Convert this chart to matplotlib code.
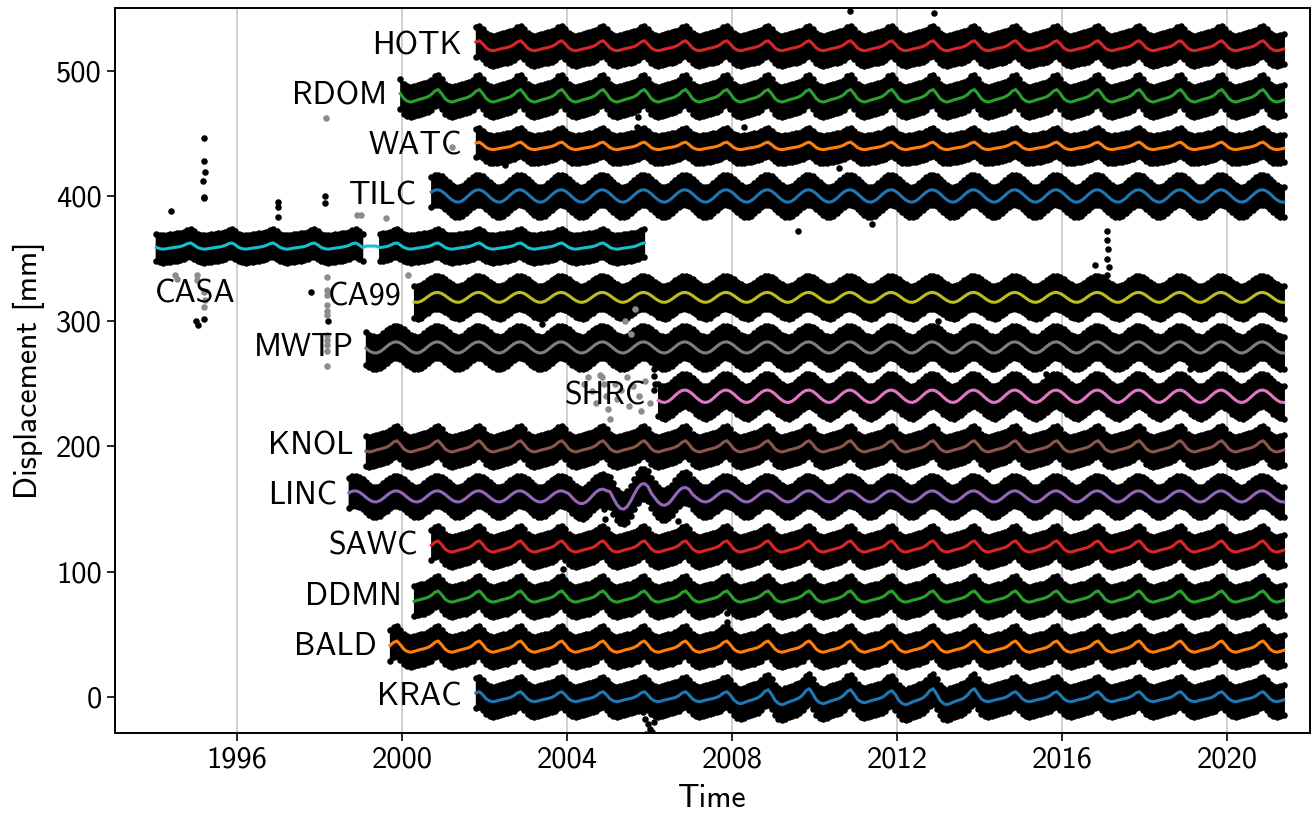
import numpy as np
import matplotlib.pyplot as plt

plt.rcParams['font.family'] = 'cmss10'
plt.rcParams['axes.unicode_minus'] = False
plt.rcParams['mathtext.fontset'] = 'cm'

# GNSS stations, stacked bottom to top with a 40 mm spacing
names = ['KRAC', 'BALD', 'DDMN', 'SAWC', 'LINC', 'KNOL', 'SHRC',
         'MWTP', 'CA99', 'CASA', 'TILC', 'WATC', 'RDOM', 'HOTK']
start = [2001.72, 1999.66, 2000.27, 2000.65, 1998.69, 1999.10, 2006.18,
         1999.10, 2000.27, 1993.96, 2000.63, 2001.72, 1999.90, 2001.72]
end = [2021.45, 2021.45, 2021.45, 2021.45, 2021.45, 2021.45, 2021.45,
       2021.45, 2021.45, 2005.94, 2021.45, 2021.45, 2021.45, 2021.45]
level = [0, 40, 80, 120, 160, 200, 240, 279, 319, 360, 400, 440, 480, 520]
amp = [4.0, 4.5, 4.5, 4.5, 4.5, 4.5, 5.0, 4.5, 4.0, 2.5, 5.0, 3.0, 5.0, 4.0]
kind = ['saw', 'saw', 'saw', 'saw', 'sine', 'saw', 'sine',
        'sine', 'sine', 'saw', 'sine', 'saw', 'saw', 'saw']
spread = [12, 12, 12, 12, 12, 12, 13, 13, 13, 11, 12, 11, 12, 12]

# seasonal signal, one value per calendar month (Jan..Dec)
seasonal = {
    'sine': [0.36, -0.16, -0.63, -0.93, -0.99, -0.78,
             -0.36, 0.16, 0.63, 0.93, 0.99, 0.78],
    'saw': [-0.45, -0.85, -1.00, -0.85, -0.65, -0.50,
            -0.35, -0.15, 0.20, 0.75, 1.00, 0.35],
}
# years where the fitted seasonal term is stronger
amp_year = {
    'KRAC': {2008: 1.4, 2009: 1.6, 2010: 1.4, 2011: 1.2, 2012: 1.6, 2013: 1.6},
    'LINC': {2004: 1.3, 2005: 2.3, 2006: 1.6},
}
# data gaps (no observations)
gaps = {'CASA': [(1999.05, 1999.45)]}

# isolated observations away from the main bands
black_x = [1995.2, 1995.2, 1995.21, 1995.18, 1995.19, 1995.2, 1994.4,
           1998.13, 1998.13, 1997.0, 1997.0, 1997.0, 1997.8, 1995.0, 1995.05,
           1995.2, 1998.2,
           2005.85, 2005.9, 2005.95, 2006.0, 2006.05, 2005.92, 2006.1, 2006.15,
           2006.1, 2006.1, 2006.12, 2006.1,
           2017.1, 2017.1, 2017.12, 2017.1, 2017.15, 2017.1, 2017.12,
           2007.88, 2007.88, 2007.9, 2007.88, 2007.9,
           2005.7, 2005.72, 2005.7, 2004.9, 2004.92,
           2008.3, 2011.4, 2013.0, 2016.8, 2019.1, 2010.6, 2003.4, 2014.2,
           2010.85, 2012.9, 2002.5, 2009.6, 2018.3, 2015.6, 2006.7, 2003.9]
black_y = [446, 428, 419, 412, 399, 398, 388,
           400, 394, 395, 391, 383, 323, 300, 297,
           302, 300,
           -12, -18, -22, -26, -28, -30, -20, -15,
           262, 256, 250, 245,
           372, 365, 358, 350, 343, 337, 330,
           67, 60, 52, 45, 35,
           470, 463, 455, 150, 142,
           455, 378, 300, 345, 262, 422, 298, 182,
           548, 546, 425, 372, 505, 258, 140, 102]
gray_x = [1994.5, 1994.55, 1995.03, 1995.03, 1995.2, 1995.22, 1995.2,
          1998.18, 1998.18, 1998.18, 1998.18, 1998.18, 1998.18, 1998.18,
          1998.18, 1998.18, 1998.18, 1998.18, 1998.16,
          1998.9, 1999.0, 1999.6, 2001.2, 2000.15,
          2004.4, 2004.5, 2004.6, 2004.7, 2004.8, 2004.85, 2004.9, 2004.95,
          2005.0, 2005.05, 2005.15, 2005.2, 2005.3, 2005.45, 2005.5, 2005.6,
          2005.75, 2005.8, 2005.9, 2006.0, 2005.4, 2005.55, 2005.65]
gray_y = [337, 334, 337, 333, 323, 317, 311,
          335, 325, 321, 313, 308, 305, 289, 285, 281, 276, 264, 462,
          385, 385, 382, 439, 337,
          250, 255, 244, 235, 257, 255, 250, 240,
          230, 222, 250, 238, 245, 255, 232, 248,
          240, 228, 252, 235, 300, 290, 310]


def station_series(i):
    k = np.arange(int(np.ceil(start[i] * 12 - 0.5)), int(end[i] * 12))
    t = (k + 0.5) / 12
    shape = np.array(seasonal[kind[i]])[k % 12]
    factors = amp_year.get(names[i], {})
    f = np.array([factors.get(int(yr), 1.0) for yr in np.floor(t)])
    y = level[i] + amp[i] * f * shape
    return t, y


fig, ax = plt.subplots(figsize=(13.16, 8.19), dpi=100)
fig.subplots_adjust(left=0.0874, right=0.9954, top=0.990, bottom=0.105)

colors = plt.rcParams['axes.prop_cycle'].by_key()['color']

for i, name in enumerate(names):
    t, y = station_series(i)
    obs = np.ones_like(t, dtype=bool)
    for g0, g1 in gaps.get(name, []):
        obs &= ~((t > g0) & (t < g1))
        y = np.where((t > g0) & (t < g1), level[i], y)
    ax.fill_between(t, y - spread[i], y + spread[i], where=obs,
                    color='k', lw=1, zorder=2)
    # dotted rim of the band
    ax.scatter(t[obs], (y + spread[i])[obs], s=22, color='k', lw=0, zorder=2)
    ax.scatter(t[obs], (y - spread[i])[obs], s=22, color='k', lw=0, zorder=2)
    ax.plot(t, y, color=colors[i % 10], lw=2.2, zorder=4)
    if name == 'CASA':
        ax.text(start[i] + 0.05, level[i] - 38, name, ha='left',
                va='center', fontsize=23, zorder=5)
    else:
        ax.text(start[i] - 0.27, level[i], name, ha='right',
                va='center', fontsize=23, zorder=5)

ax.scatter(black_x, black_y, s=22, color='k', lw=0, zorder=3)
ax.scatter(gray_x, gray_y, s=22, color='#8c8c8c', lw=0, zorder=3)

ax.set_xlim(1993.04, 2022.01)
ax.set_ylim(-29, 550)
ax.set_xticks([1996, 2000, 2004, 2008, 2012, 2016, 2020])
ax.set_yticks([0, 100, 200, 300, 400, 500])
ax.tick_params(labelsize=22, length=6, width=1.2)
ax.grid(axis='x', color='#cccccc', lw=1.3)
ax.set_axisbelow(True)
for s in ax.spines.values():
    s.set_linewidth(1.4)
ax.set_xlabel('Time', fontsize=23, labelpad=8)
ax.set_ylabel('Displacement [mm]', fontsize=23, labelpad=8)

fig.savefig('out.png')
